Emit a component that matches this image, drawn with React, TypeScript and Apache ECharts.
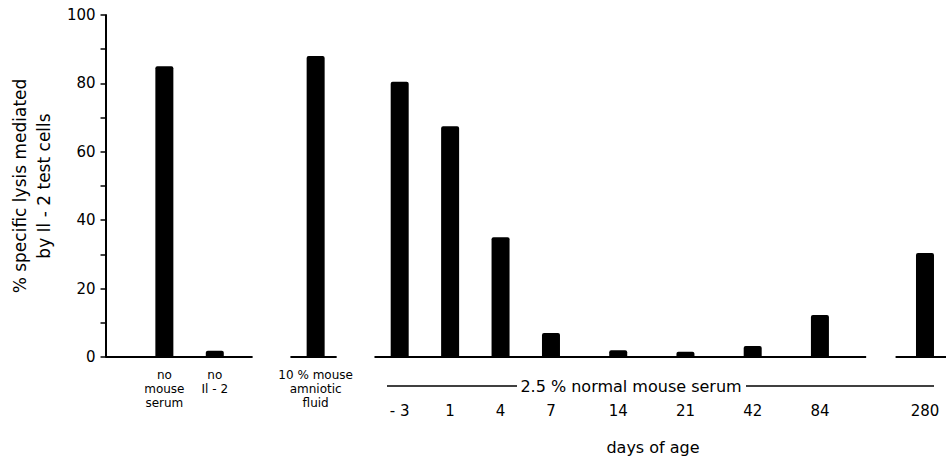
import React, { useEffect, useRef } from "react";
import * as echarts from "echarts";

// ---- data ----
const groupLabels = ["no\nmouse\nserum", "no\nIl - 2", "10 % mouse\namniotic\nfluid"];
const groupValues = [85, 1.8, 88];
const dayLabels = ["- 3", "1", "4", "7", "14", "21", "42", "84", "280"];
const dayValues = [80.5, 67.5, 35, 7, 2, 1.5, 3.2, 12.3, 30.4];
const yLabelTicks = [0, 20, 40, 60, 80, 100];
const yTitle = "% specific lysis mediated\nby Il - 2 test cells";
const groupCaption = "2.5 % normal mouse serum";
const xTitle = "days of age";

// ---- layout (slot positions on a fine category axis) ----
const SLOTS = 201;
const groupSlots = [14, 26, 50];
const daySlots = [70, 82, 94, 106, 122, 138, 154, 170, 195];
const baseSegments = [
  [0, 35],
  [44, 55],
  [64, 181],
  [188, 200],
];

const FONT = "DejaVu Sans";

const slotIds = Array.from({ length: SLOTS }, (_, i) => "s" + i);
const labels0: string[] = Array(SLOTS).fill("");
const labels1: string[] = Array(SLOTS).fill("");
const barData: (number | string)[] = Array(SLOTS).fill("-");
groupSlots.forEach((s, i) => {
  labels0[s] = groupLabels[i];
  barData[s] = groupValues[i];
});
daySlots.forEach((s, i) => {
  labels1[s] = dayLabels[i];
  barData[s] = dayValues[i];
});
const baseData: (number | string)[] = Array(SLOTS).fill("-");
baseSegments.forEach(([a, b]) => {
  for (let k = a; k <= b; k++) baseData[k] = 0;
});

export default function App() {
  const ref = useRef<HTMLDivElement>(null);
  useEffect(() => {
    const chart = echarts.init(ref.current!, null, { renderer: "svg" });
    chart.setOption({
      animation: false,
      backgroundColor: "#fff",
      grid: { left: 97, right: 2, top: 15, bottom: 100, containLabel: false },
      xAxis: [
        {
          type: "category",
          data: slotIds,
          boundaryGap: false,
          axisLine: { show: false },
          axisTick: { show: false },
          splitLine: { show: false },
          axisLabel: {
            interval: 0,
            formatter: (_v: string, i: number) => labels0[i],
            fontFamily: FONT,
            fontSize: 12,
            lineHeight: 14,
            color: "#000",
            margin: 11,
          },
        },
        {
          type: "category",
          data: slotIds,
          position: "bottom",
          boundaryGap: false,
          axisLine: { show: false },
          axisTick: { show: false },
          splitLine: { show: false },
          axisLabel: {
            interval: 0,
            formatter: (_v: string, i: number) => labels1[i],
            fontFamily: FONT,
            fontSize: 15,
            color: "#000",
            margin: 46,
          },
        },
      ],
      yAxis: {
        type: "value",
        min: 0,
        max: 100,
        interval: 10,
        splitLine: { show: false },
        axisLine: { show: true, lineStyle: { color: "#000", width: 2 } },
        axisTick: { show: true, length: 5, lineStyle: { color: "#000", width: 1.5 } },
        axisLabel: {
          formatter: (v: number) => (yLabelTicks.includes(v) ? String(v) : ""),
          fontFamily: FONT,
          fontSize: 15,
          color: "#000",
          margin: 10,
        },
        name: yTitle,
        nameLocation: "middle",
        nameRotate: 90,
        nameGap: 43,
        nameTextStyle: { fontFamily: FONT, fontSize: 17, lineHeight: 24, color: "#000" },
      },
      series: [
        {
          type: "line",
          data: baseData,
          xAxisIndex: 0,
          symbol: "none",
          silent: true,
          connectNulls: false,
          lineStyle: { color: "#000", width: 2 },
          z: 1,
        },
        {
          type: "bar",
          data: barData,
          xAxisIndex: 0,
          barWidth: 18,
          itemStyle: { color: "#000", borderRadius: [2, 2, 0, 0] },
          z: 2,
        },
      ],
      graphic: [
        {
          type: "line",
          shape: { x1: 387, y1: 386, x2: 517, y2: 386 },
          style: { stroke: "#000", lineWidth: 1.4 },
        },
        {
          type: "line",
          shape: { x1: 746, y1: 386, x2: 934, y2: 386 },
          style: { stroke: "#000", lineWidth: 1.4 },
        },
        {
          type: "text",
          x: 631,
          y: 386,
          style: {
            text: groupCaption,
            fontFamily: FONT,
            fontSize: 16,
            fill: "#000",
            align: "center",
            verticalAlign: "middle",
          },
        },
        {
          type: "text",
          x: 653,
          y: 447,
          style: {
            text: xTitle,
            fontFamily: FONT,
            fontSize: 16,
            fill: "#000",
            align: "center",
            verticalAlign: "middle",
          },
        },
      ],
    });
    return () => chart.dispose();
  }, []);
  return (
    <div
      ref={ref}
      style={{ position: "fixed", left: 0, top: 0, width: 949, height: 457, background: "#fff" }}
    />
  );
}
